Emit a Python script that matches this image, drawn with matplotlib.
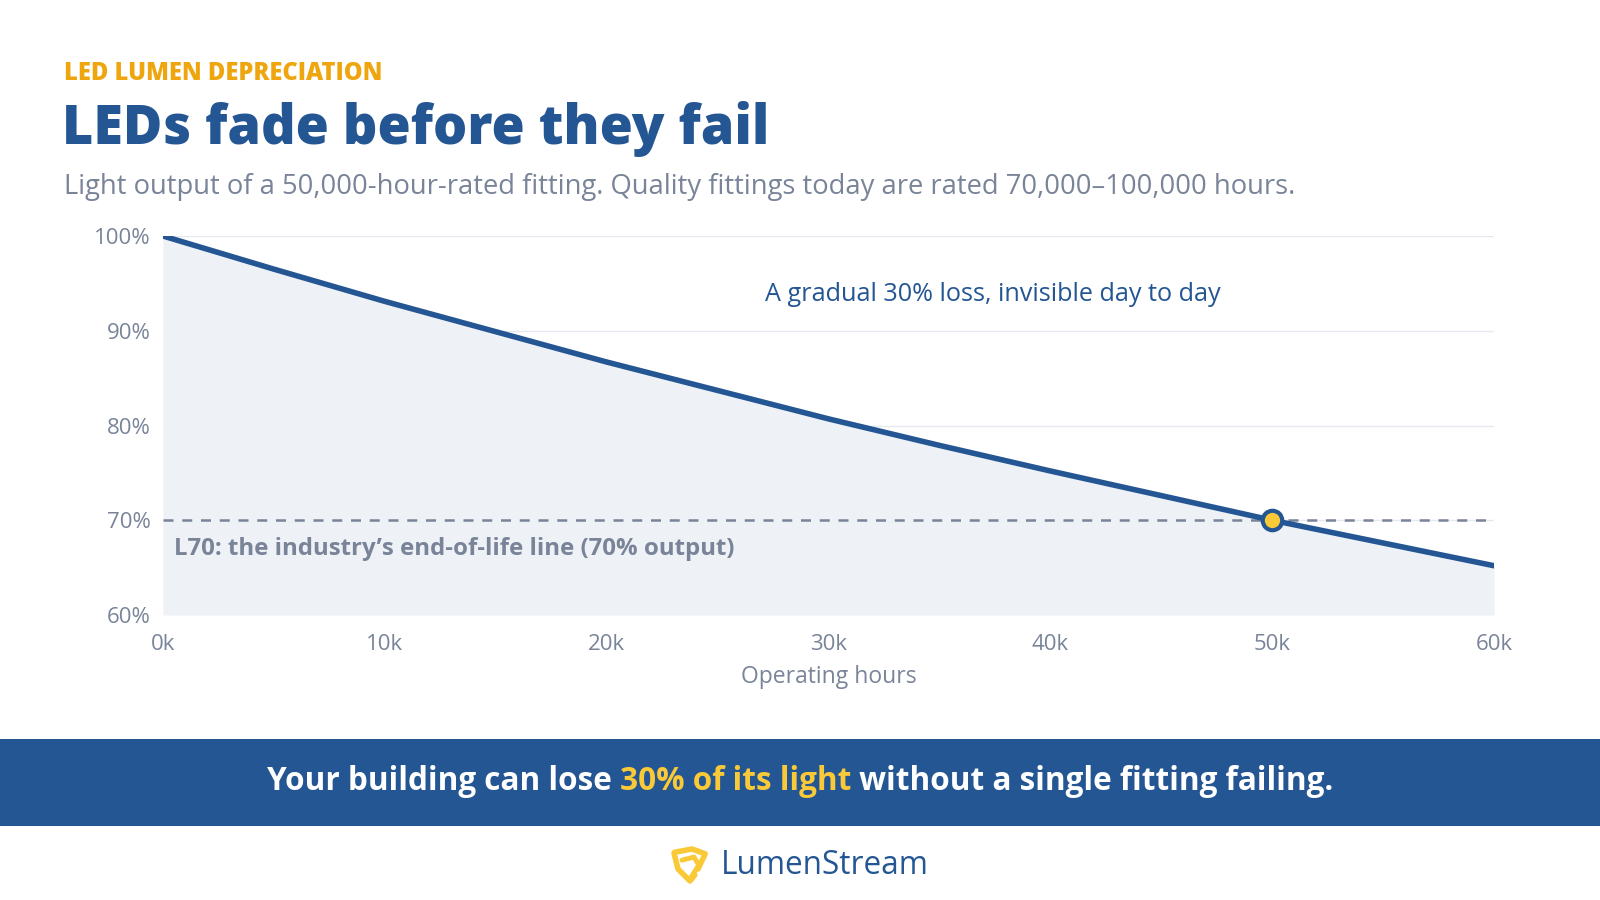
import matplotlib
matplotlib.use("Agg")
import matplotlib.pyplot as plt
from matplotlib.patches import Rectangle
from matplotlib.ticker import FuncFormatter

# === Datos ===
hours_k = [0, 5, 10, 15, 20, 25, 30, 35, 40, 45, 50, 55, 60]
output_pct = [100, 96.5, 93.1, 89.9, 86.7, 83.7, 80.7, 77.9, 75.2, 72.6, 70.0, 67.6, 65.2]
x_ticks = [0, 10, 20, 30, 40, 50, 60]
y_ticks = [60, 70, 80, 90, 100]
l70_level = 70
l70_hours = 50

# === Colores ===
BLUE = "#245693"
GRAY = "#7A8499"
FILL = "#EEF1F6"
GRID = "#E6EAF0"
ORANGE = "#EFA60E"
YELLOW = "#F9C937"

plt.rcParams["font.family"] = ["Open Sans", "DejaVu Sans"]

W, H = 1600, 900
fig = plt.figure(figsize=(16, 9), dpi=100)
fig.patch.set_facecolor("white")


def px(x, y):
    return x / W, 1 - y / H


# === Encabezado ===
fig.text(*px(64, 74), "LED LUMEN DEPRECIATION", color=ORANGE, fontsize=17,
         fontweight="heavy", va="center", ha="left")
fig.text(*px(62, 129), "LEDs fade before they fail", color=BLUE, fontsize=38.8,
         fontweight="heavy", va="center", ha="left")
fig.text(*px(64, 187),
         "Light output of a 50,000-hour-rated fitting. Quality fittings today are rated 70,000\u2013100,000 hours.",
         color=GRAY, fontsize=19.7, va="center", ha="left")

# === Gráfico ===
ax = fig.add_axes([163 / W, 1 - 615 / H, (1494 - 163) / W, (615 - 236) / H])
ax.set_xlim(0, 60)
ax.set_ylim(60, 100)
ax.fill_between(hours_k, output_pct, 60, color=FILL, zorder=1, linewidth=0)
for yt in y_ticks:
    ax.axhline(yt, color=GRID, linewidth=1, zorder=0.5)
ax.axhline(l70_level, color=GRAY, linestyle=(0, (4, 3.5)), linewidth=1.8, zorder=2)
ax.plot(hours_k, output_pct, color=BLUE, linewidth=4, zorder=3, solid_capstyle="round")
ax.plot([l70_hours], [l70_level], marker="o", markersize=14, markerfacecolor=YELLOW,
        markeredgecolor=BLUE, markeredgewidth=3, zorder=4)

ax.set_xticks(x_ticks)
ax.set_yticks(y_ticks)
ax.xaxis.set_major_formatter(FuncFormatter(lambda v, p: f"{int(v)}k"))
ax.yaxis.set_major_formatter(FuncFormatter(lambda v, p: f"{int(v)}%"))
ax.tick_params(length=0, labelsize=16, labelcolor=GRAY, pad=9)
ax.tick_params(axis="x", pad=14)
for s in ax.spines.values():
    s.set_visible(False)
ax.set_facecolor("none")
ax.set_xlabel("Operating hours", color=GRAY, fontsize=16.5, labelpad=7)

ax.text(37.4, 93.8, "A gradual 30% loss, invisible day to day", color=BLUE, fontsize=18.2,
        ha="center", va="center")
ax.text(0.5, 67.0, "L70: the industry\u2019s end-of-life line (70% output)", color=GRAY,
        fontsize=17.3, fontweight="bold", ha="left", va="center")

# === Banda inferior ===
fig.patches.append(Rectangle((0, 1 - 826 / H), 1, (826 - 739) / H, transform=fig.transFigure,
                             facecolor=BLUE, edgecolor="none", zorder=0))
parts = [("Your building can lose ", "white"), ("30% of its light", YELLOW),
         (" without a single fitting failing.", "white")]
texts = []
for s, c in parts:
    texts.append(fig.text(0, 1 - 782 / H, s, color=c, fontsize=22.7, fontweight="bold",
                          va="center", ha="left"))
fig.canvas.draw()
r = fig.canvas.get_renderer()
widths = [t.get_window_extent(r).width for t in texts]
x0 = (W - sum(widths)) / 2
for t, w in zip(texts, widths):
    t.set_x(x0 / W)
    x0 += w

# === Logo ===
logo = fig.add_axes([670 / W, 1 - 885 / H, 40 / W, 40 / H])
logo.set_xlim(0, 1)
logo.set_ylim(0, 1)
logo.axis("off")
# tres trazos curvos aproximados (triángulo redondeado)
logo.plot([0.12, 0.55, 0.88, 0.7], [0.82, 0.9, 0.78, 0.4], color=YELLOW, linewidth=4,
          solid_capstyle="round", solid_joinstyle="round")
logo.plot([0.1, 0.2, 0.5, 0.62], [0.8, 0.4, 0.1, 0.25], color=YELLOW, linewidth=4,
          solid_capstyle="round", solid_joinstyle="round")
logo.plot([0.3, 0.6, 0.72, 0.5], [0.62, 0.7, 0.5, 0.15], color=YELLOW, linewidth=3.5,
          solid_capstyle="round", solid_joinstyle="round")
fig.text(*px(721, 866), "LumenStream", color=BLUE, fontsize=22.7, fontweight="medium",
         va="center", ha="left")

fig.savefig("out.png", dpi=100, facecolor="white")
